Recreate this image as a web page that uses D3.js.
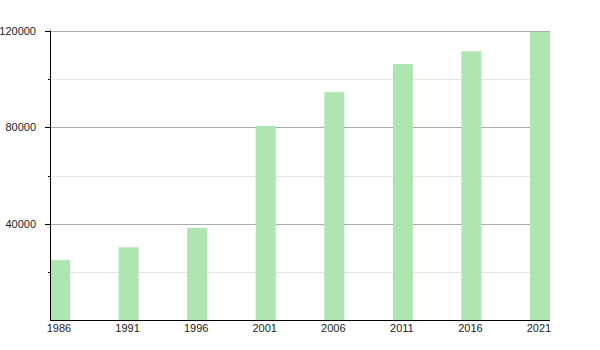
<!DOCTYPE html>
<html>
<head>
<meta charset="utf-8">
<script src="https://cdn.jsdelivr.net/npm/d3@7"></script>
<style>
  body { margin: 0; background: #fff; }
  text { font-family: "Liberation Sans", Arial, sans-serif; font-size: 11px; fill: #222; }
</style>
</head>
<body>
<svg id="chart" width="600" height="350"></svg>
<script>
var years = ['1986', '1991', '1996', '2001', '2006', '2011', '2016', '2021'];
var population = [25000, 30300, 38300, 80500, 94500, 106100, 111400, 119400];
var majorTicks = [40000, 80000, 120000];
var minorTicks = [20000, 60000, 100000];

var svg = d3.select('#chart');
var plotLeft = 50, plotRight = 550, plotTop = 30.5, plotBottom = 320.5;

var x = d3.scaleBand().domain(years).range([plotLeft, plotRight]).paddingInner(0.7083).paddingOuter(0);
var y = d3.scaleLinear().domain([0, 120000]).range([plotBottom, plotTop]);

function yPix(d) { return Math.round(y(d)) + 0.5; }

// gridlines
svg.append('g').selectAll('line').data(minorTicks).enter().append('line')
    .attr('x1', plotLeft).attr('x2', plotRight)
    .attr('y1', yPix).attr('y2', yPix)
    .attr('stroke', '#e4e4e4');
svg.append('g').selectAll('line').data(majorTicks).enter().append('line')
    .attr('x1', plotLeft).attr('x2', plotRight)
    .attr('y1', yPix).attr('y2', yPix)
    .attr('stroke', '#aaaaaa');

// bars
svg.append('g').selectAll('rect').data(population).enter().append('rect')
    .attr('x', function(d, i) { return x(years[i]); })
    .attr('width', x.bandwidth())
    .attr('y', function(d) { return y(d); })
    .attr('height', function(d) { return y(0) - y(d); })
    .attr('fill', '#afe5b0');

// y axis
var yAxis = svg.append('g');
yAxis.append('line').attr('x1', plotLeft + 0.5).attr('x2', plotLeft + 0.5)
    .attr('y1', plotTop).attr('y2', plotBottom).attr('stroke', '#000');
yAxis.selectAll('.major').data(majorTicks).enter().append('line')
    .attr('x1', plotLeft - 5).attr('x2', plotLeft)
    .attr('y1', yPix).attr('y2', yPix)
    .attr('stroke', '#000');
yAxis.selectAll('.minor').data(minorTicks).enter().append('line')
    .attr('x1', plotLeft - 2).attr('x2', plotLeft)
    .attr('y1', yPix).attr('y2', yPix)
    .attr('stroke', '#000');
yAxis.selectAll('text').data(majorTicks).enter().append('text')
    .attr('x', 36).attr('y', function(d) { return y(d) + 4; })
    .attr('text-anchor', 'end')
    .text(function(d) { return d; });

// x axis
svg.append('line').attr('x1', plotLeft).attr('x2', plotRight)
    .attr('y1', plotBottom).attr('y2', plotBottom).attr('stroke', '#000');
svg.append('g').selectAll('text').data(years).enter().append('text')
    .attr('x', function(d) { return x(d) + x.bandwidth() / 2 - 1; })
    .attr('y', 332)
    .attr('text-anchor', 'middle')
    .text(function(d) { return d; });
</script>
</body>
</html>
